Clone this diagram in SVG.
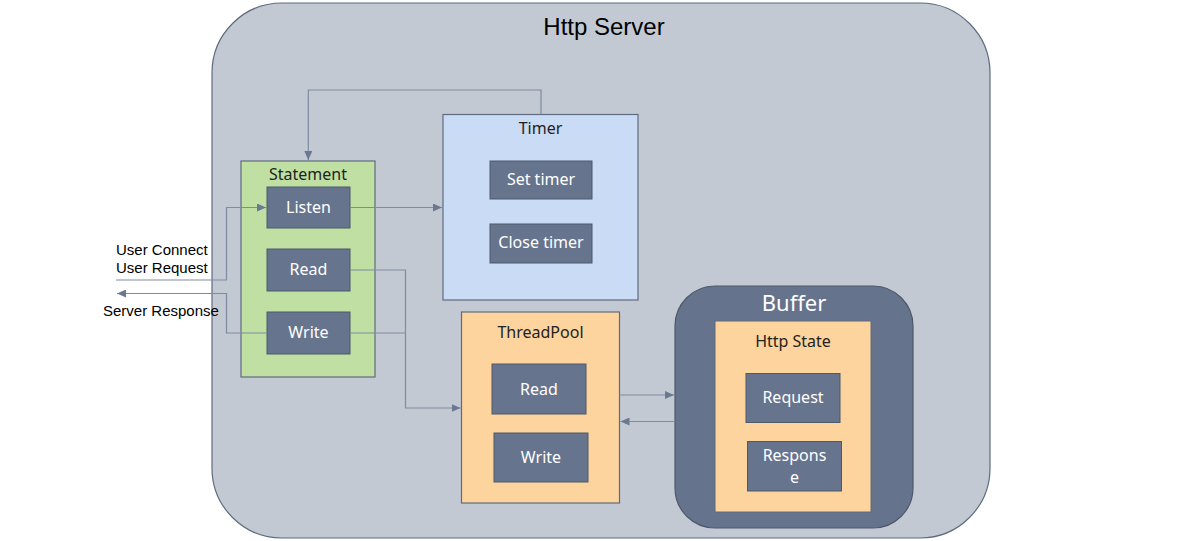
<svg xmlns="http://www.w3.org/2000/svg" width="1189" height="541" viewBox="0 0 1189 541">
<defs>
<marker id="arr" markerWidth="10" markerHeight="8" refX="9" refY="4" orient="auto" markerUnits="userSpaceOnUse">
<path d="M0,0 L9,4 L0,8 Z" fill="#6b7891"/>
</marker>
<style>
.dk{fill:#67748e;stroke:#4d586b;stroke-width:1}
.wt{fill:#ffffff;font-family:"Noto Sans","Open Sans",sans-serif;font-size:16px;text-anchor:middle}
.tt{fill:#222222;font-family:"Noto Sans","Open Sans",sans-serif;font-size:16px;text-anchor:middle}
.lb{fill:#000000;font-family:"Liberation Sans",Arial,sans-serif;font-size:15px}
.cn{fill:none;stroke:#7f8ba0;stroke-width:1.2}
</style>
</defs>
<rect width="1189" height="541" fill="#ffffff"/>
<g id="server">
<rect x="212" y="3" width="778" height="535" rx="70" fill="#c3c9d3" stroke="#5f6b7f" stroke-width="1.2"/>
<text x="604" y="35" font-family="Liberation Sans,Arial,sans-serif" font-size="24" text-anchor="middle" fill="#000">Http Server</text>
</g>
<g id="statement">
<rect x="241" y="161" width="134" height="216" fill="#bfe0a2" stroke="#5f6b7f" stroke-width="1.2"/>
<text class="tt" x="308" y="180">Statement</text>
<g id="listen"><rect class="dk" x="267" y="187" width="83" height="41"/><text class="wt" x="308.5" y="213">Listen</text></g>
<g id="read1"><rect class="dk" x="267" y="249" width="83" height="42"/><text class="wt" x="308.5" y="275">Read</text></g>
<g id="write1"><rect class="dk" x="267" y="312" width="83" height="42"/><text class="wt" x="308.5" y="338">Write</text></g>
</g>
<g id="timer">
<rect x="443" y="114.5" width="195" height="185.5" fill="#c9dbf5" stroke="#5f6b7f" stroke-width="1.2"/>
<text class="tt" x="540.5" y="134">Timer</text>
<g id="settimer"><rect class="dk" x="490" y="161" width="102" height="38"/><text class="wt" x="541" y="185">Set timer</text></g>
<g id="closetimer"><rect class="dk" x="490" y="224" width="102" height="39"/><text class="wt" x="541" y="248">Close timer</text></g>
</g>
<g id="threadpool">
<rect x="461.5" y="312" width="158" height="191" fill="#fdd49d" stroke="#5f6b7f" stroke-width="1.2"/>
<text class="tt" x="540.5" y="338">ThreadPool</text>
<g id="read2"><rect class="dk" x="492" y="364" width="94" height="50"/><text class="wt" x="539" y="395">Read</text></g>
<g id="write2"><rect class="dk" x="494" y="433" width="94" height="49"/><text class="wt" x="541" y="463">Write</text></g>
</g>
<g id="buffer">
<rect x="675" y="286" width="238" height="242" rx="40" fill="#66738c" stroke="#4d586b" stroke-width="1.2"/>
<text x="794" y="311" font-family="Noto Sans,Open Sans,sans-serif" font-size="22" text-anchor="middle" fill="#ffffff">Buffer</text>
<g id="httpstate">
<rect x="715" y="321" width="156" height="191" fill="#fdd49d" stroke="#5f6b7f" stroke-width="1"/>
<text class="tt" x="793" y="347">Http State</text>
<g id="request"><rect class="dk" x="746" y="373.5" width="94" height="49"/><text class="wt" x="793" y="403">Request</text></g>
<g id="response"><rect class="dk" x="747.5" y="441.5" width="94" height="49.5"/><text class="wt" x="794.5" y="461" font-size="15.5">Respons</text><text class="wt" x="794.5" y="483" font-size="15.5">e</text></g>
</g>
</g>
<g id="connectors">
<path class="cn" d="M541,114.5 V90 H308.3 V160" marker-end="url(#arr)"/>
<path class="cn" d="M350,207.5 H442" marker-end="url(#arr)"/>
<path class="cn" d="M116,280 H226.5 V207.5 H266" marker-end="url(#arr)"/>
<path class="cn" d="M267,333 H226.5 V293.5 H117" marker-end="url(#arr)"/>
<path class="cn" d="M350,270 H405.5 V408 H460.5" marker-end="url(#arr)"/>
<path class="cn" d="M350,333 H405.5"/>
<path class="cn" d="M619.5,395 H674" marker-end="url(#arr)"/>
<path class="cn" d="M675,421.5 H620.5" marker-end="url(#arr)"/>
</g>
<g id="labels">
<text class="lb" x="116" y="255">User Connect</text>
<text class="lb" x="116" y="273">User Request</text>
<text class="lb" x="103" y="316">Server Response</text>
</g>
</svg>
